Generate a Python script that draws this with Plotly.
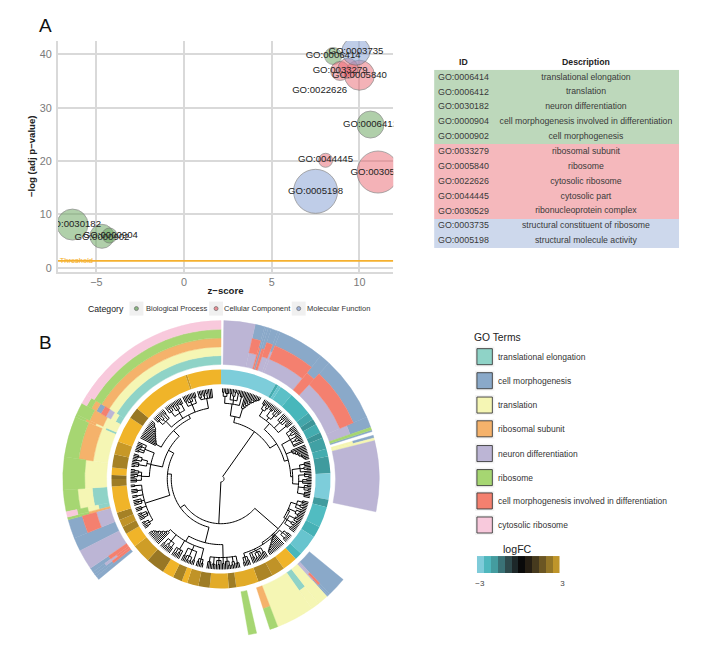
import plotly.graph_objects as go

W, H = 709, 645
FONT = "Liberation Sans"

# ---------- panel A data ----------
go_ids = ["GO:0030182", "GO:0000902", "GO:0000904", "GO:0006414", "GO:0003735", "GO:0033279",
          "GO:0005840", "GO:0022626", "GO:0006412", "GO:0044445", "GO:0030529", "GO:0005198"]
z_scores = [-6.36, -4.68, -4.25, 8.5, 9.8, 8.9, 10.0, 9.35, 10.63, 8.07, 11.06, 7.5]
neg_log_p = [8.1, 5.9, 6.05, 39.7, 40.6, 36.9, 36.1, 37.4, 26.85, 20.15, 17.95, 14.33]
bubble_diam = [31, 24, 15, 17, 28, 19, 30, 20, 27, 14, 42, 44]
categories = ["BP", "BP", "BP", "BP", "MF", "CC", "CC", "CC", "BP", "CC", "CC", "MF"]
label_z = [-6.3, -4.68, -4.2, 8.5, 9.8, 8.9, 10.0, 7.73, 10.63, 8.07, 11.06, 7.5]
label_y = [8.1, 5.7, 6.1, 39.8, 40.5, 36.9, 36.1, 33.3, 26.85, 20.3, 17.9, 14.2]
threshold = 1.3

cat_fill = {"BP": "rgba(105,165,95,0.75)", "CC": "rgba(232,100,110,0.7)", "MF": "rgba(135,160,212,0.75)"}
cat_names = ["Biological Process", "Cellular Component", "Molecular Function"]

# ---------- table data ----------
table_ids = ["GO:0006414", "GO:0006412", "GO:0030182", "GO:0000904", "GO:0000902", "GO:0033279",
             "GO:0005840", "GO:0022626", "GO:0044445", "GO:0030529", "GO:0003735", "GO:0005198"]
table_desc = ["translational elongation", "translation", "neuron differentiation",
              "cell morphogenesis involved in differentiation", "cell morphogenesis",
              "ribosomal subunit", "ribosome", "cytosolic ribosome", "cytosolic part", "ribonucleoprotein complex",
              "structural constituent of ribosome", "structural molecule activity"]
table_cat = [0, 0, 0, 0, 0, 1, 1, 1, 1, 1, 2, 2]
table_headers = ["ID", "Description"]

# ---------- panel B data ----------
term_names = {"T": "translational elongation", "M": "cell morphogenesis", "Y": "translation",
              "O": "ribosomal subunit", "N": "neuron differentiation", "G": "ribosome",
              "S": "cell morphogenesis involved in differentiation", "P": "cytosolic ribosome"}
term_colors = {"T": "#8fd3c7", "M": "#8aa9c9", "Y": "#f5f6b4", "O": "#f5b26b",
               "N": "#bcb5d5", "G": "#a6d672", "S": "#f4806f", "P": "#f8c9dc"}
legend_order = ["T", "M", "Y", "O", "N", "G", "S", "P"]

# angular span (degrees clockwise from top) and terms, inner to outer
gene_start = [1, 12.5, 16, 16.6, 17.4, 18.5, 21, 22, 39, 43, 67, 71, 72,
              74, 75, 76,
              129.5, 136.6, 137.5, 138, 142, 145, 159, 167,
              230.6, 232, 233, 234, 235.6, 243, 248, 255, 256, 258, 266, 278, 293, 294, 298.5, 302]
gene_end = [12.5, 16, 16.6, 17.4, 18.5, 21, 22, 39, 43, 67, 71, 72, 72.6,
            75, 76, 102,
            136.6, 137.5, 138, 142, 145, 159, 162, 170,
            232, 233, 234, 235.6, 243, 248, 255, 256, 258, 266, 278, 293, 294, 298.5, 302, 360]
gene_terms = ["N", "NSM", "SM", "M", "SM", "NSM", "NM", "NSM", "SM", "NSM", "NM", "G", "M",
              "YM", "Y", "N",
              "M", "NSM", "NM", "Y", "TY", "Y", "OG", "G",
              "M", "SM", "SNM", "SM", "N", "M", "NSM", "OG", "TYGP", "TYG", "YG", "YOG", "TYOG", "YOG",
              "TYNSMOGP", "TYOGP"]

# logFC ring sectors
fc_start = [0, 30, 31.5, 33, 40, 53, 57, 60, 65, 68, 74, 78, 87, 101, 105, 116, 122, 133,
            137, 145, 152, 160, 172, 176, 186, 192, 198, 201, 206, 212, 222, 232, 240, 244,
            248, 252, 266, 270, 272, 276, 283, 290, 304, 310, 341, 342]
fc_end = [30, 31.5, 33, 40, 53, 57, 60, 65, 68, 74, 78, 87, 101, 105, 116, 122, 133, 137,
          145, 152, 160, 172, 176, 186, 192, 198, 201, 206, 212, 222, 232, 240, 244, 248,
          252, 266, 270, 272, 276, 283, 290, 304, 310, 341, 342, 360]
fc_value = [-3, -2.3, -2.8, -2.7, -2.5, -2.2, -1.9, -2.3, -1.9, -2.1, -2.3, -2.0, -3, -2.0, -2.6, -2.4, -2.8, -2.5,
            3, 2.3, 2.0, 2.8, 1.8, 2.8, 1.8, 2.3, 3, 1.9, 3, 1.7, 2.5, 3, 1.9, 2.3,
            1.9, 3, 1.8, 1.5, 3, 1.9, 2.4, 3, 1.7, 3, 2.4, 3]

colorbar_cells = ["#7fcbd9", "#4fb7bd", "#449c9f", "#3a7276", "#2e4a4c", "#1d2829",
                  "#0a0a0a", "#261f14", "#463a1e", "#6b5623", "#947627", "#bf952a"]
colorbar_mid = [-2.75, -2.25, -1.75, -1.25, -0.75, -0.25, 0.25, 0.75, 1.25, 1.75, 2.25, 2.75]
colorbar_edge = [-3, -2.5, -2, -1.5, -1, -0.5, 0, 0.5, 1, 1.5, 2, 2.5, 3]

# gene clustering tree: [merge radius, children...]; a bare number is a leaf angle
tree = [3,
 [58,
  [64,
   [76, [83, [87, 1, 2], [86, 3, 4, 5]], [80, [86, 6, 7], [84, 8, [88, 9, 10]], [87, 11, 12]], [85, 13, 14, 15]],
   [74, 16, [76, 17, [78, 18, [80, 19, [82, 20, [83, 21, [85, 22, [86, 23, [87, 24, [88, 25, 26]]]]]]]]]]],
  [66,
   [74, [81, [86, 29, 30, 31], [84, 32, [87, 33, 34]]], [78, [85, 35, 36, 37], [83, [87, 38, 39], 40, [87, 41, 42]]],
    [82, 44, [86, 45, 46], 47, [87, 48, 49]], [84, 50, 51, 52]],
   [70,
    [80, [85, 54, 55, 56], [83, 57, [87, 58, 59]], [86, 60, 61], [84, 62, [87, 63, 64]], 65, 66],
    [76, 68, [77, 69, [79, 70, [81, 71, [82, 72, [84, 73, [85, 74, [86, 75, [87, 76, 77]]]]]]]]],
    [72, [80, [85, 79, 80, 81], [84, 82, [87, 83, 84]], 85], [78, [84, 86, 87, [88, 88, 89]], [82, [86, 90, 91], 92, 93],
     [84, [87, 94, 95], 96, [88, 97, 98]], [85, 99, 100, 101, 102]]]]]],
 [45,
  [76,
   [74, [80, [85, 105, 106, 107], [84, 108, [87, 109, 110]], 111], [82, [86, 112, 113], [85, 114, 115, 116]],
    [78, [84, 117, 118, [87, 119, 120]], [83, 121, [86, 122, 123]], [85, 124, 125, 126]]],
   [78, [82, [86, 129, 130], 131, [87, 132, 133, 134]],
    [76, 136, [78, 137, [79, 138, [80, 139, [81, 140, [82, 141, [83, 142, [84, 143, [85, 144, [86, 145, [87, 146, 147]]]]]]]]]]],
    [80, [85, 149, 150, 151], [82, 152, [86, 153, 154], [87, 155, 156]], [85, 157, 158], 159],
    [82, [86, 161, 162], 163, [87, 164, 165]]]],
  [50,
   [66,
    [79, [86, 168, 169, 170], [84, 171, [87, 172, 173]], [83, [87, 174, 175], 176, 177], [85, 178, 179],
     [82, 180, [86, 181, 182], 183], [86, 184, 185, 186], [84, 187, 188, 189]],
    [72, [83, [87, 192, 193], 194, [86, 195, 196]],
     [77, [86, 198, 199], [84, [88, 200, 201], [88, 202, 203], 204], [85, 205, 206]],
     [82, 208, [85, 209, 210], [87, 211, 212], 213],
     [80, [85, 215, 216, 217], [84, 218, [87, 219, 220]], [86, 221, 222]],
     [75, 224, [77, 225, [78, 226, [80, 227, [81, 228, [83, 229, [84, 230, [85, 231, [87, 232, 233]]]]]]]]]]],
   [54,
    [80, [84, [87, 237, 238], 239, [88, 240, 241]], [82, [86, 243, 244], 245, [87, 246, 247]],
     [85, 249, 250, 251], [83, 253, [86, 254, 255], 256], [86, 258, 259], [85, 261, 262, 263], [87, 265, 266]],
    [60,
     [72, [80, [85, 268, 269, 270], [84, [87, 271, 272], 273], [83, 274, [87, 275, 276]]],
      [76, [84, [88, 278, 279], 280, 281], [82, [87, 282, 283], [86, 284, 285, 286]]],
      [82, [87, 288, 289], 290, [86, 291, 292, 293], 294]],
     [68,
      [74, 297, [75, 298, [76, 299, [77, 300, [78, 301, [79, 302, [80, 303, [81, 304, [82, 305, [83, 306, [85, 307, [86, 308, [87, 309, 310]]]]]]]]]]]]],
      [72, [80, [85, 312, 313, 314], [83, 315, [87, 316, 317]], 318, [86, 319, 320]],
       [78, [84, 322, [87, 323, 324], 325], [82, [87, 326, 327], 328, [86, 329, 330]], [85, 331, 332, 333]],
       [80, [85, 335, 336], [83, 337, [86, 338, 339], 340], [86, 341, 342, 343]],
       [82, [84, 345, [87, 346, 347]], [85, 348, 349], [87, 350, 351], 352, 353, 354]]]]]]]]

LEAF_R = 91
RING_IN, RING_OUT = 115, 159
SX, SY = 1.007, 1.005


def px(x):
    return x * SX / W


def py(y):
    return 1 - y * SY / H


tree_t, tree_r = [], []


def walk(node):
    """Return the angle of a node and add its arc and its child stems."""
    if not isinstance(node, list):
        return float(node), LEAF_R
    r0 = node[0]
    kids = [walk(k) for k in node[1:]]
    thetas = [k[0] for k in kids]
    a, b = min(thetas), max(thetas)
    steps = max(2, int((b - a) / 2) + 2)
    for i in range(steps):
        tree_t.append(a + (b - a) * i / (steps - 1))
        tree_r.append(r0)
    tree_t.append(None)
    tree_r.append(None)
    for t, r in kids:
        tree_t.extend([t, t, None])
        tree_r.extend([r0, r, None])
    return (a + b) / 2, r0


walk(tree)

fig = go.Figure()

# ---------- panel A ----------
for c in ["BP", "CC", "MF"]:
    idx = [i for i, k in enumerate(categories) if k == c]
    fig.add_trace(go.Scatter(
        x=[z_scores[i] for i in idx], y=[neg_log_p[i] for i in idx], mode="markers",
        marker=dict(size=[bubble_diam[i] for i in idx], sizemode="diameter", color=cat_fill[c],
                    line=dict(color="#6a6a6a", width=0.8)),
        name=c, showlegend=False, hoverinfo="skip"))
fig.add_trace(go.Scatter(x=[-7.2, 11.93], y=[threshold, threshold], mode="lines",
                         line=dict(color="#f5b02e", width=1.6), showlegend=False, hoverinfo="skip"))
fig.add_trace(go.Scatter(x=[-6.14], y=[threshold], mode="text", text=["Threshold"],
                         textfont=dict(family=FONT, size=7.5, color="#f5b02e"), showlegend=False, hoverinfo="skip"))
fig.add_trace(go.Scatter(x=label_z, y=label_y, mode="text", text=go_ids,
                         textfont=dict(family=FONT, size=9.6, color="#222222"), showlegend=False, hoverinfo="skip"))

# ---------- table: cell fills on its own axes, with the texts over them ----------
n_rows = len(table_ids)
fig.add_trace(go.Heatmap(
    x=[0, 59, 246], y=[i - 0.5 for i in range(n_rows + 1)],
    z=[[c, c] for c in table_cat], zmin=0, zmax=2,
    colorscale=[[0, "#bdd8bb"], [0.33, "#bdd8bb"], [0.34, "#f5b8bc"], [0.66, "#f5b8bc"], [0.67, "#cdd8ec"], [1, "#cdd8ec"]],
    showscale=False, hoverinfo="skip", xaxis="x3", yaxis="y3"))
fig.add_trace(go.Scatter(x=[29.5] * n_rows, y=list(range(n_rows)), mode="text", text=table_ids, cliponaxis=False,
                         textfont=dict(family=FONT, size=8.9, color="#3a3a3a"), showlegend=False, hoverinfo="skip",
                         xaxis="x3", yaxis="y3"))
fig.add_trace(go.Scatter(x=[152.5] * n_rows, y=list(range(n_rows)), mode="text", text=table_desc, cliponaxis=False,
                         textfont=dict(family=FONT, size=8.7, color="#3a3a3a"), showlegend=False, hoverinfo="skip",
                         xaxis="x3", yaxis="y3"))
fig.add_trace(go.Scatter(x=[29.5, 152.5], y=[-1, -1], mode="text", text=["<b>%s</b>" % s for s in table_headers],
                         textfont=dict(family=FONT, size=8.7, color="#222222"), showlegend=False, hoverinfo="skip",
                         xaxis="x3", yaxis="y3"))

# ---------- panel B rings ----------
for code in legend_order:
    mids, widths, bases, thick = [], [], [], []
    for s, e, terms in zip(gene_start, gene_end, gene_terms):
        t = (RING_OUT - RING_IN) / len(terms)
        for j, k in enumerate(terms):
            if k == code:
                mids.append((s + e) / 2)
                widths.append(e - s)
                bases.append(RING_IN + j * t)
                thick.append(t)
    fig.add_trace(go.Barpolar(theta=mids, width=widths, base=bases, r=thick, name=term_names[code],
                              marker=dict(color=term_colors[code], line=dict(width=0.4, color=term_colors[code])),
                              showlegend=False, hoverinfo="skip", subplot="polar"))

ring_scale = [[0, "#7dcdda"], [0.08, "#48b8bc"], [0.17, "#3f9a9d"], [0.5, "#000000"],
              [0.75, "#8a6e24"], [1, "#f0b429"]]
fig.add_trace(go.Barpolar(
    theta=[(s + e) / 2 for s, e in zip(fc_start, fc_end)],
    width=[e - s for s, e in zip(fc_start, fc_end)],
    base=[95] * len(fc_value), r=[15] * len(fc_value),
    marker=dict(color=fc_value, colorscale=ring_scale, cmin=-3, cmax=3, showscale=False, line=dict(width=0)),
    showlegend=False, hoverinfo="skip", subplot="polar"))
fig.add_trace(go.Scatterpolar(theta=tree_t, r=tree_r, mode="lines", line=dict(color="#000000", width=1.0),
                              showlegend=False, hoverinfo="skip", subplot="polar", connectgaps=False))

# ---------- logFC key ----------
n = len(colorbar_cells)
bar_scale = []
for i, c in enumerate(colorbar_cells):
    bar_scale += [[i / n, c], [(i + 1) / n, c]]
fig.add_trace(go.Heatmap(x=colorbar_edge, y=[0, 1], z=[colorbar_mid], zmin=-3, zmax=3, colorscale=bar_scale,
                         showscale=False, hoverinfo="skip", xaxis="x2", yaxis="y2"))

# ---------- text and key marks ----------
ann = []
shapes = []


def text(x, y, s, size, color="#222222", anchor="left"):
    shift = 1.5 if anchor == "left" else 0
    ann.append(dict(x=px(x - shift), y=py(y), xref="paper", yref="paper", text=s, showarrow=False, xanchor=anchor,
                    yanchor="middle", font=dict(family=FONT, size=size, color=color)))


text(37, 25, "A", 19, "#111111")
text(37, 342, "B", 19, "#111111")

text(86, 308, "Category", 8.7)
for xc, tx, name, c in zip([135, 215, 298], [144, 222, 306], cat_names, ["BP", "CC", "MF"]):
    shapes.append(dict(type="rect", xref="paper", yref="paper", x0=px(xc - 7), x1=px(xc + 7), y0=py(301), y1=py(315),
                       fillcolor="#f0f0f0", line_width=0))
    shapes.append(dict(type="circle", xref="paper", yref="paper", x0=px(xc - 2), x1=px(xc + 2), y0=py(306), y1=py(310),
                       fillcolor=cat_fill[c], line=dict(color="#6a6a6a", width=0.7)))
    text(tx, 308, name, 7.5, "#333333")

text(474, 337, "GO Terms", 10.3)
for code, yc in zip(legend_order, [356, 380, 404.3, 428, 452.7, 476.7, 500, 524]):
    shapes.append(dict(type="rect", xref="paper", yref="paper", x0=px(475), x1=px(494.5), y0=py(yc - 10), y1=py(yc + 10),
                       fillcolor="#f4f4f4", line_width=0))
    shapes.append(dict(type="rect", xref="paper", yref="paper", x0=px(477), x1=px(492.5), y0=py(yc - 8), y1=py(yc + 8),
                       fillcolor=term_colors[code], line=dict(color="#3a3a3a", width=0.9)))
    text(497.7, yc, term_names[code], 8.5, "#333333")
text(518, 547.7, "logFC", 10.6, "#222222", "center")

fig.update_layout(
    width=W, height=H, margin=dict(l=0, r=0, t=0, b=0), paper_bgcolor="white", plot_bgcolor="white",
    font=dict(family=FONT), showlegend=False, annotations=ann, shapes=shapes,
    xaxis=dict(domain=[px(56), px(393)], range=[-7.2, 11.93], tickvals=[-5, 0, 5, 10], showgrid=True,
               gridcolor="#d9d9d9", gridwidth=1.6, zeroline=False, showline=True, linecolor="#d9d9d9", linewidth=1.6,
               ticks="", tickfont=dict(family=FONT, size=10.8, color="#7a7a7a"),
               title=dict(text="<b>z−score</b>", font=dict(family=FONT, size=9.6, color="#222222"), standoff=0)),
    yaxis=dict(domain=[py(271), py(41)], range=[-0.7, 42.5], tickvals=[0, 10, 20, 30, 40], showgrid=True,
               gridcolor="#d9d9d9", gridwidth=1.6, zeroline=False, showline=True, linecolor="#d9d9d9", linewidth=1.6,
               ticks="outside", ticklen=2, tickcolor="white", tickfont=dict(family=FONT, size=10.8, color="#7a7a7a"),
               title=dict(text="<b>−log (adj p−value)</b>", font=dict(family=FONT, size=9.6, color="#222222"), standoff=2)),
    xaxis2=dict(domain=[px(477), px(560)], range=[-3, 3], tickvals=[-3, 3], ticktext=["−3", "3"], anchor="y2",
                showgrid=False, zeroline=False, ticks="outside", ticklen=2, tickcolor="white", ticklabelshift=3,
                tickfont=dict(family=FONT, size=8, color="#444444")),
    yaxis2=dict(domain=[py(572), py(555)], range=[0, 1], visible=False, anchor="x2"),
    xaxis3=dict(domain=[px(434), px(680)], range=[0, 246], visible=False, anchor="y3"),
    yaxis3=dict(domain=[py(248), py(55)], range=[11.5, -1.5], visible=False, anchor="x3"),
    polar=dict(
        domain=dict(x=[px(60), px(380)], y=[py(638), py(318)]), bgcolor="rgba(0,0,0,0)", barmode="overlay",
        radialaxis=dict(range=[0, 160], visible=False),
        angularaxis=dict(direction="clockwise", rotation=90, visible=False)),
)

fig.write_html("out.html", config={"displayModeBar": False},
               post_script="document.body.style.margin='0';document.documentElement.style.overflow='hidden';document.body.style.overflow='hidden';")
